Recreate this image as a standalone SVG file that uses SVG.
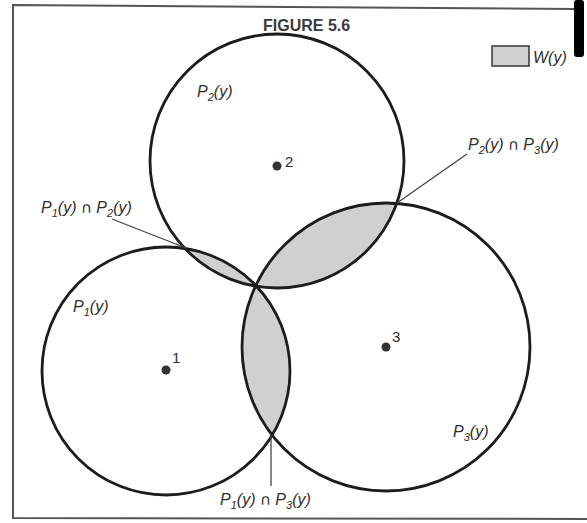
<svg xmlns="http://www.w3.org/2000/svg" width="587" height="523" viewBox="0 0 587 523">
<style>
.lbl{font-family:"Liberation Sans",Arial,sans-serif;font-style:italic;font-size:16px;fill:#2e2e2e}
.cap{font-family:"DejaVu Sans",sans-serif;font-style:normal;font-size:15px}
.num{font-family:"Liberation Sans",Arial,sans-serif;font-size:15px;fill:#2e2e2e}
.title{font-family:"Liberation Sans",Arial,sans-serif;font-weight:bold;font-size:16px;fill:#3a3a3a}
.ring{fill:none;stroke:#1c1c1c;stroke-width:2.8}
.lens{fill:#d0d0d0}
.dot{fill:#333}
.lead{stroke:#444;stroke-width:1.3;fill:none}
.frame{stroke:#555;stroke-width:2;fill:none}
</style>
<defs>
<clipPath id="c1"><circle cx="166" cy="371" r="124"/></clipPath>
<clipPath id="c2"><circle cx="277" cy="161" r="127"/></clipPath>
</defs>
<rect width="587" height="523" fill="#ffffff"/>
<g id="frame">
<polyline class="frame" points="587,519 13,518 13,5 575,9"/>
<rect x="574" y="0" width="10" height="57" rx="3" fill="#000"/>
</g>
<g id="title"><text class="title" x="263" y="31">FIGURE 5.6</text></g>
<g id="legend">
<rect x="492" y="46" width="37" height="20" fill="#d0d0d0" stroke="#333" stroke-width="1.5"/>
<text class="lbl" x="533" y="63">W(y)</text>
</g>
<g id="lenses">
<circle class="lens" cx="277" cy="161" r="127" clip-path="url(#c1)"/>
<circle class="lens" cx="386" cy="347" r="144" clip-path="url(#c1)"/>
<circle class="lens" cx="386" cy="347" r="144" clip-path="url(#c2)"/>
</g>
<g id="node1">
<circle class="ring" cx="166" cy="371" r="124"/>
<circle class="dot" cx="166" cy="370" r="4.5"/>
<text class="num" x="172" y="363">1</text>
<text class="lbl" x="73" y="312">P<tspan font-size="11" dy="4">1</tspan><tspan dy="-4">(y)</tspan></text>
</g>
<g id="node2">
<circle class="ring" cx="277" cy="161" r="127"/>
<circle class="dot" cx="277" cy="166" r="4.5"/>
<text class="num" x="285" y="167">2</text>
<text class="lbl" x="197" y="97">P<tspan font-size="11" dy="4">2</tspan><tspan dy="-4">(y)</tspan></text>
</g>
<g id="node3">
<circle class="ring" cx="386" cy="347" r="144"/>
<circle class="dot" cx="386" cy="347" r="4.5"/>
<text class="num" x="392" y="342">3</text>
<text class="lbl" x="453" y="437">P<tspan font-size="11" dy="4">3</tspan><tspan dy="-4">(y)</tspan></text>
</g>
<g id="connectors">
<line class="lead" x1="112" y1="219" x2="186" y2="248"/>
<line class="lead" x1="467" y1="154" x2="397" y2="203"/>
<line class="lead" x1="271" y1="435" x2="271" y2="486"/>
</g>
<g id="intersection-labels">
<text class="lbl" x="41" y="213">P<tspan font-size="11" dy="4">1</tspan><tspan dy="-4">(y) </tspan><tspan class="cap">∩</tspan> P<tspan font-size="11" dy="4">2</tspan><tspan dy="-4">(y)</tspan></text>
<text class="lbl" x="468" y="150">P<tspan font-size="11" dy="4">2</tspan><tspan dy="-4">(y) </tspan><tspan class="cap">∩</tspan> P<tspan font-size="11" dy="4">3</tspan><tspan dy="-4">(y)</tspan></text>
<text class="lbl" x="220" y="505">P<tspan font-size="11" dy="4">1</tspan><tspan dy="-4">(y) </tspan><tspan class="cap">∩</tspan> P<tspan font-size="11" dy="4">3</tspan><tspan dy="-4">(y)</tspan></text>
</g>
</svg>
